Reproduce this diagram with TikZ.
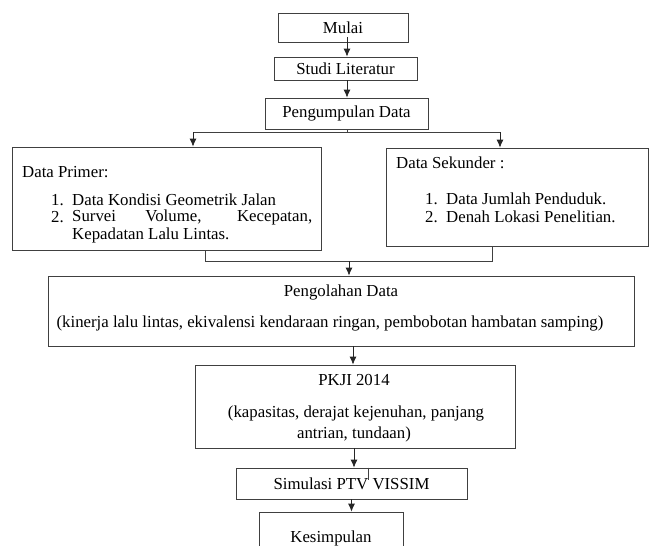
\documentclass[tikz,border=0pt]{standalone}
\usepackage{fontspec}
\setmainfont{Liberation Serif}
\usetikzlibrary{arrows.meta}
\begin{document}
\begin{tikzpicture}[x=1pt,y=-1pt,
 box/.style={draw=black!75,line width=0.8pt,inner sep=0pt,anchor=center,font=\fontsize{16.8}{19}\selectfont},
 txt/.style={inner sep=0pt,font=\fontsize{16.8}{19}\selectfont},
 arr/.style={draw=black!85,line width=0.8pt,-{Latex[length=8pt,width=7pt]}},
 ln/.style={draw=black!75,line width=0.8pt}]
\useasboundingbox (0,0) rectangle (651,546);
\clip (0,0) rectangle (651,546);
\fill[white] (0,0) rectangle (651,546);
% boxes
\node[box,minimum width=130pt,minimum height=29pt] (mulai) at (343,27.5) {Mulai};
\node[box,minimum width=143pt,minimum height=23pt] (studi) at (345.5,68.5) {Studi Literatur};
\node[box,minimum width=163pt,minimum height=31pt] (peng) at (346.5,113.5) {Pengumpulan Data};
\node[box,minimum width=309pt,minimum height=103pt] (primer) at (166.5,198.5) {};
\node[box,minimum width=262pt,minimum height=98pt] (sek) at (517,197) {};
\node[box,minimum width=586pt,minimum height=70pt] (olah) at (341,311) {};
\node[box,minimum width=320pt,minimum height=83pt] (pkji) at (355,406.5) {};
\node[box,minimum width=231pt,minimum height=31pt] (sim) at (351.5,483.5) {Simulasi PTV VISSIM};
\node[box,minimum width=144pt,minimum height=58pt] (kes) at (331,541) {};
% texts
\node[txt,anchor=west] (p0) at (22,172) {Data Primer:};
\node[txt,anchor=east] (p1n) at (64,200) {1.};
\node[txt,anchor=west] (p1) at (72,200) {Data Kondisi Geometrik Jalan};
\node[txt,anchor=east] (p2n) at (64,217.5) {2.};
\node[txt,anchor=west] (p2) at (72,217.5) {\makebox[240pt][s]{Survei Volume, Kecepatan,}};
\node[txt,anchor=west] (p3) at (72,235) {Kepadatan Lalu Lintas.};
\node[txt,anchor=west] (s0) at (396,163) {Data Sekunder :};
\node[txt,anchor=east] (s1n) at (438,199) {1.};
\node[txt,anchor=west] (s1) at (446,199) {Data Jumlah Penduduk.};
\node[txt,anchor=east] (s2n) at (438,217) {2.};
\node[txt,anchor=west] (s2) at (446,217) {Denah Lokasi Penelitian.};
\node[txt] (o1) at (341,292) {Pengolahan Data};
\node[txt] (o2) at (330,323) {(kinerja lalu lintas, ekivalensi kendaraan ringan, pembobotan hambatan samping)};
\node[txt] (k1) at (354,380) {PKJI 2014};
\node[txt] (k2) at (356,413) {(kapasitas, derajat kejenuhan, panjang};
\node[txt] (k3) at (354,434) {antrian, tundaan)};
\node[txt] (kt) at (331,538) {Kesimpulan};
% connectors
\coordinate (bl) at (193,132);
\coordinate (brr) at (500,132);
\coordinate (bm) at (347,132);
\coordinate (ml) at (205,261);
\coordinate (mr) at (492,261);
\coordinate (mm) at (349,261);
\draw[arr] ([xshift=4pt,yshift=5pt]mulai.south) -- ([xshift=4pt]mulai.south |- studi.north);
\draw[arr] ([xshift=1.5pt]studi.south) -- ([xshift=1.5pt]studi.south |- peng.north);
\draw[ln] ([xshift=0.5pt]peng.south) -- (bm);
\draw[ln] (bl) -- (brr);
\draw[arr] (bl) -- (bl |- primer.north);
\draw[arr] (brr) -- (brr |- sek.north);
\draw[ln] (ml |- primer.south) -- (ml) -- (mr) -- (mr |- sek.south);
\draw[arr] (mm) -- (mm |- olah.north);
\draw[arr] ([xshift=12pt]olah.south) -- ([xshift=12pt]olah.south |- pkji.north);
\draw[arr] ([xshift=-1pt]pkji.south) -- ([xshift=-1pt]pkji.south |- sim.north);
\draw[ln,line width=0.6pt] ([xshift=16.5pt]sim.north) -- ++(0,12);
\draw[arr] (sim.south) -- (sim.south |- kes.north);
\end{tikzpicture}
\end{document}
